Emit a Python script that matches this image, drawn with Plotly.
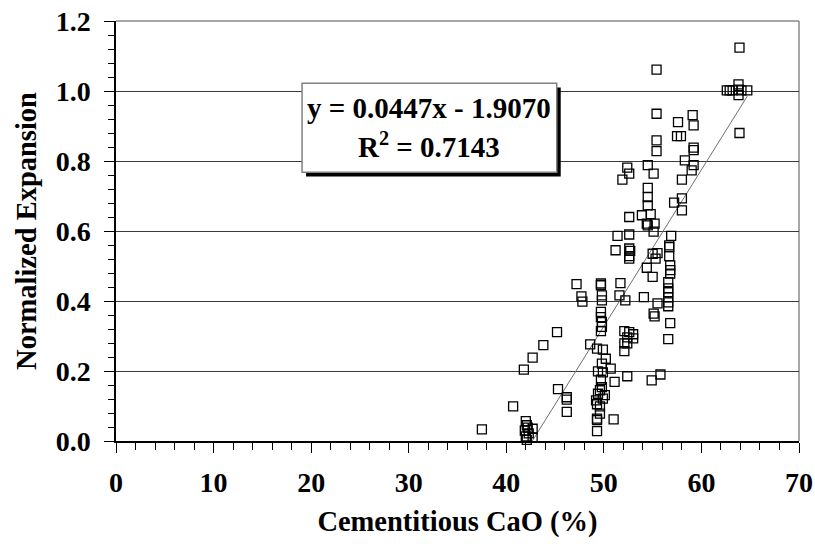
import plotly.graph_objects as go

# Cementitious CaO (%) and normalized expansion
cao = [
    37.5, 40.7, 41.8, 42.7, 43.8, 45.2, 45.3, 46.2, 46.2, 46.2,
    42.0, 42.1, 41.9, 42.2, 42.3, 42.7, 42.0, 42.7, 42.1,
    47.2, 47.7, 47.8,
    48.6, 49.3, 49.9, 50.2, 49.8, 50.7, 49.4, 49.9, 51.1, 49.7,
    49.8, 49.6, 49.4, 50.1, 49.9, 49.2, 49.3, 49.6, 49.6, 49.3,
    49.3, 51.0, 49.3, 49.7, 49.7, 49.8, 49.8, 49.7, 49.7, 49.8,
    49.8, 49.7,
    51.7, 51.6, 52.2, 51.2, 51.4, 52.6, 52.6, 52.7, 52.6, 52.6,
    52.6, 51.9, 52.4, 52.6, 52.1, 52.6, 53.0, 52.4, 53.0, 52.1,
    52.4, 52.1, 52.4,
    54.1, 54.4, 55.0, 55.5, 55.1, 55.2, 54.9, 55.8, 55.0, 55.5,
    55.3, 55.1, 54.4, 54.5, 55.2, 53.9, 54.8, 54.5, 54.5, 54.5,
    54.5, 55.1, 55.4, 55.4, 55.4, 55.4,
    56.8, 56.8, 56.8, 56.6, 56.6, 56.6, 56.6, 56.6, 56.6, 56.8,
    56.6, 56.7, 56.7, 56.7, 56.9,
    57.2, 58.0, 58.0, 58.0, 58.3, 59.2, 59.2, 59.0, 57.6, 59.1,
    59.2, 57.5, 57.9, 59.2,
    63.9, 62.6, 62.9, 63.2, 63.8, 63.8, 63.8, 64.1, 64.7, 63.9,
]
expansion = [
    0.033, 0.099, 0.204, 0.238, 0.274, 0.311, 0.148, 0.125, 0.118, 0.083,
    0.057, 0.045, 0.030, 0.038, 0.022, 0.035, 0.013, 0.010, 0.003,
    0.448, 0.413, 0.398,
    0.276, 0.264, 0.261, 0.235, 0.221, 0.207, 0.199, 0.196, 0.169, 0.175,
    0.154, 0.145, 0.135, 0.131, 0.121, 0.116, 0.105, 0.099, 0.078, 0.064,
    0.060, 0.062, 0.028, 0.450, 0.445, 0.416, 0.402, 0.369, 0.354, 0.340,
    0.326, 0.314,
    0.451, 0.416, 0.402, 0.545, 0.586, 0.590, 0.550, 0.543, 0.528, 0.521,
    0.640, 0.747, 0.781, 0.764, 0.314, 0.311, 0.305, 0.296, 0.293, 0.279,
    0.279, 0.257, 0.185,
    0.411, 0.495, 0.469, 0.393, 0.364, 0.356, 0.173, 0.190, 0.535, 0.537,
    0.521, 0.598, 0.621, 0.616, 0.621, 0.645, 0.648, 0.723, 0.697, 0.673,
    0.788, 0.764, 0.828, 0.859, 0.935, 1.061,
    0.502, 0.488, 0.478, 0.454, 0.436, 0.425, 0.411, 0.396, 0.385, 0.337,
    0.291, 0.559, 0.554, 0.528, 0.586,
    0.681, 0.693, 0.659, 0.747, 0.802, 0.831, 0.788, 0.773, 0.911, 0.931,
    0.902, 0.871, 0.871, 0.838,
    1.124, 1.002, 1.002, 1.002, 1.019, 1.004, 0.988, 1.002, 1.002, 0.880,
]

slope = 0.0447
intercept = -1.9070
r_squared = 0.7143

x_ticks = [0, 10, 20, 30, 40, 50, 60, 70]
y_ticks = [0.0, 0.2, 0.4, 0.6, 0.8, 1.0, 1.2]

FONT = "Liberation Serif, Times New Roman, serif"

fit_x = [min(cao), max(cao)]
fit_y = [slope * v + intercept for v in fit_x]

fig = go.Figure()
fig.add_trace(go.Scatter(
    x=fit_x, y=fit_y, mode="lines",
    line=dict(color="#707070", width=1), hoverinfo="skip", showlegend=False,
))
fig.add_trace(go.Scatter(
    x=cao, y=expansion, mode="markers",
    marker=dict(symbol="square-open", size=9, color="black",
                line=dict(color="black", width=1.3)),
    showlegend=False, cliponaxis=False,
))

# plot-area frame (top & right in gray)
fig.add_shape(type="line", xref="paper", yref="paper", x0=0, x1=1, y0=1, y1=1,
              line=dict(color="#8a8a8a", width=1.5), layer="below")
fig.add_shape(type="line", xref="paper", yref="paper", x0=1, x1=1, y0=0, y1=1,
              line=dict(color="#8a8a8a", width=1.5), layer="below")

# equation box with drop shadow
bx0, bx1, by0, by1 = 19.07, 45.17, 0.768, 1.022
fig.add_shape(type="rect", x0=bx0 + 0.41, x1=bx1 + 0.41, y0=by0 - 0.012, y1=by1 - 0.012,
              fillcolor="black", line=dict(width=0), layer="above")
fig.add_shape(type="rect", x0=bx0, x1=bx1, y0=by0, y1=by1,
              fillcolor="white", line=dict(color="#808080", width=1.5), layer="above")

fig.add_annotation(x=(bx0 + bx1) / 2, y=0.951, xref="x", yref="y",
                   text=f"<b>y = {slope:.4f}x - {abs(intercept):.4f}</b>",
                   showarrow=False, font=dict(family=FONT, size=29, color="black"))
fig.add_annotation(x=(bx0 + bx1) / 2, y=0.845, xref="x", yref="y",
                   text=f"<b>R<sup>2</sup> = {r_squared:.4f}</b>",
                   showarrow=False, font=dict(family=FONT, size=29, color="black"))

fig.update_layout(
    width=815, height=544,
    margin=dict(l=116, r=16, t=21, b=103),
    paper_bgcolor="white", plot_bgcolor="white",
    font=dict(family=FONT, size=28, color="black"),
    xaxis=dict(
        range=[0, 70], tickvals=x_ticks, ticktext=[f"<b>{v}</b>" for v in x_ticks],
        showgrid=False, zeroline=False, automargin=False,
        showline=True, linecolor="black", linewidth=1.5,
        ticks="outside", ticklen=10, tickwidth=1.3, tickcolor="black",
        ticklabelstandoff=6, ticklabeloverflow="allow",
        minor=dict(dtick=2, ticks="outside", ticklen=7, tickwidth=1.3, tickcolor="black"),
        title=dict(text="<b>Cementitious CaO (%)</b>", standoff=14,
                   font=dict(family=FONT, size=28.5)),
        tickfont=dict(family=FONT, size=28),
    ),
    yaxis=dict(
        range=[0, 1.2], tickvals=y_ticks, ticktext=[f"<b>{v:.1f}</b>" for v in y_ticks],
        showgrid=True, gridcolor="#3a3a3a", gridwidth=1.2, zeroline=False,
        automargin=False,
        showline=True, linecolor="black", linewidth=1.5,
        ticks="outside", ticklen=10, tickwidth=1.3, tickcolor="black",
        ticklabelstandoff=8, ticklabeloverflow="allow",
        minor=dict(dtick=0.04, ticks="outside", ticklen=6, tickwidth=1.3,
                   tickcolor="black", showgrid=False),
        title=dict(text="<b>Normalized Expansion</b>", standoff=11,
                   font=dict(family=FONT, size=28.5)),
        tickfont=dict(family=FONT, size=28),
    ),
)

# remove the default 8px page margin so the 815x544 figure fills the window exactly
fig.write_html(
    "out.html",
    config={"displayModeBar": False},
    post_script="document.body.style.margin='0';document.body.style.overflow='hidden';",
)
